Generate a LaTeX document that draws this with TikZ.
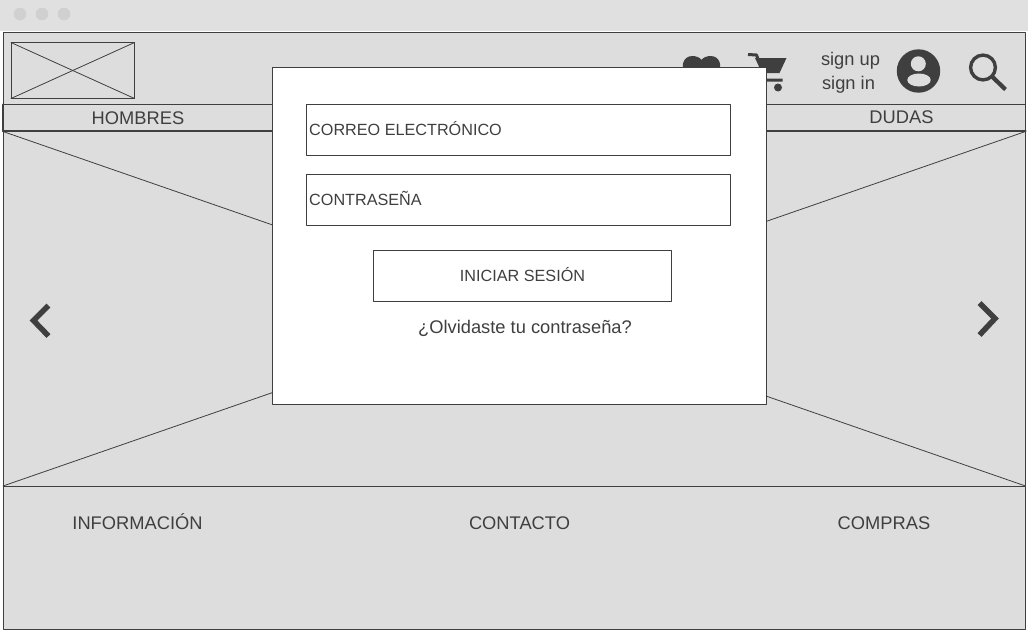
\documentclass[tikz,border=0pt]{standalone}
\usepackage{fontspec}
\setmainfont{Liberation Sans}
\definecolor{wire}{HTML}{3F3F3F}
\definecolor{paper}{HTML}{DDDDDD}
\definecolor{dots}{HTML}{D0D0D0}
\definecolor{bar}{HTML}{E0E0E0}
\tikzset{
  panel/.style={draw=wire,fill=paper,line width=0.9pt,anchor=north west,inner sep=0pt,outer sep=0pt},
  field/.style={draw=wire,fill=white,line width=0.8pt,anchor=north west,inner sep=0pt,outer sep=0pt},
  label/.style={text=wire,font=\fontsize{18.3}{20}\selectfont,inner sep=0pt},
  fieldlabel/.style={text=wire,font=\fontsize{16.2}{20}\selectfont,inner sep=0pt},
  chevron/.style={draw=wire,line width=5.5pt,line cap=butt,line join=miter}
}
\begin{document}
\begin{tikzpicture}[x=1pt,y=-1pt,line cap=round,line join=round]
  \useasboundingbox (0,0) rectangle (1028,632);
  \fill[white] (0,0) rectangle (1028,632);
  \fill[bar] (0,0) rectangle (1028,31);
  \foreach \x in {20,42,64}
    \fill[dots] (\x,14) circle (6.3);
  \node[panel,minimum width=1022.5pt,minimum height=597pt] (window) at (3,32.5) {};
  \node[panel,minimum width=123.5pt,minimum height=56pt] (logo) at (11,42.5) {};
  \draw[draw=wire,line width=0.8pt] (logo.north west) -- (logo.south east);
  \draw[draw=wire,line width=0.8pt] (logo.south west) -- (logo.north east);
  \node[panel,minimum width=1022.5pt,minimum height=26.5pt] (nav) at (3,104.5) {};
  \node[label] (hombres) at (138,118) {HOMBRES};
  \node[label] (dudas) at (901.5,117) {DUDAS};
  \node[panel,minimum width=1022.5pt,minimum height=354.5pt] (hero) at (3,131.5) {};
  \draw[draw=wire,line width=0.8pt] (hero.north west) -- (hero.south east);
  \draw[draw=wire,line width=0.8pt] (hero.south west) -- (hero.north east);
  \draw[draw=wire,line width=2pt] (nav.south west) -- (nav.south east);
  \draw[draw=wire,line width=2pt] (nav.north west) -- (nav.south west);
  \node[panel,minimum width=1022.5pt,minimum height=143.5pt] (footer) at (3,486) {};
  \draw[chevron] (48.5,305.5) -- (33.5,320.5) -- (48.5,336);
  \draw[chevron] (979.5,303) -- (995,318.5) -- (979.5,335);
  \node[label] (informacion) at (137.5,521.5) {INFORMACIÓN};
  \node[label] (contacto) at (519.5,523) {CONTACTO};
  \node[label] (compras) at (884,523) {COMPRAS};
  % icons
  \fill[wire] (701.5,88) -- (685.5,73) .. controls (680,67) and (683,56) .. (692.5,56)
    .. controls (696,56) and (700,57.5) .. (701.5,60)
    .. controls (703,57.5) and (707,56) .. (710.5,56)
    .. controls (720,56) and (723,67) .. (717.5,73) -- cycle;
  \draw[wire,line width=3pt,line cap=butt] (748,54.5) -- (756.5,55) -- (766,80) -- (782.5,80);
  \fill[wire] (755,58) -- (786.5,58) -- (779.5,73) -- (762,73) -- cycle;
  \fill[wire] (778,87.5) circle (4);
  \node[label] (signup) at (850.5,61) {sign up};
  \node[label] (signin) at (848.5,84.5) {sign in};
  \fill[wire] (918.5,71) circle (21.7);
  \fill[paper] (918.3,63.8) circle (7.5);
  \fill[paper] (919,80) ellipse (11.7 and 6.5);
  \draw[wire,line width=3.4pt] (983,67.5) circle (12.4);
  \draw[wire,line width=4.2pt,line cap=butt] (992,76.5) -- (1005.5,89.5);
  % login
  \node[field,line width=1pt,minimum width=494pt,minimum height=337pt] (modal) at (272.5,67.5) {};
  \node[field,minimum width=424pt,minimum height=51pt] (correo) at (306.5,104.5) {};
  \node[fieldlabel,anchor=west] at (309,129) {CORREO ELECTRÓNICO};
  \node[field,minimum width=424pt,minimum height=51pt] (clave) at (306.5,174.5) {};
  \node[fieldlabel,anchor=west] at (309,198.5) {CONTRASEÑA};
  \node[field,minimum width=298pt,minimum height=51pt] (iniciar) at (373.5,250.5) {};
  \node[fieldlabel] at (522.5,275) {INICIAR SESIÓN};
  \node[label] (olvido) at (525,328) {¿Olvidaste tu contraseña?};
\end{tikzpicture}
\end{document}
